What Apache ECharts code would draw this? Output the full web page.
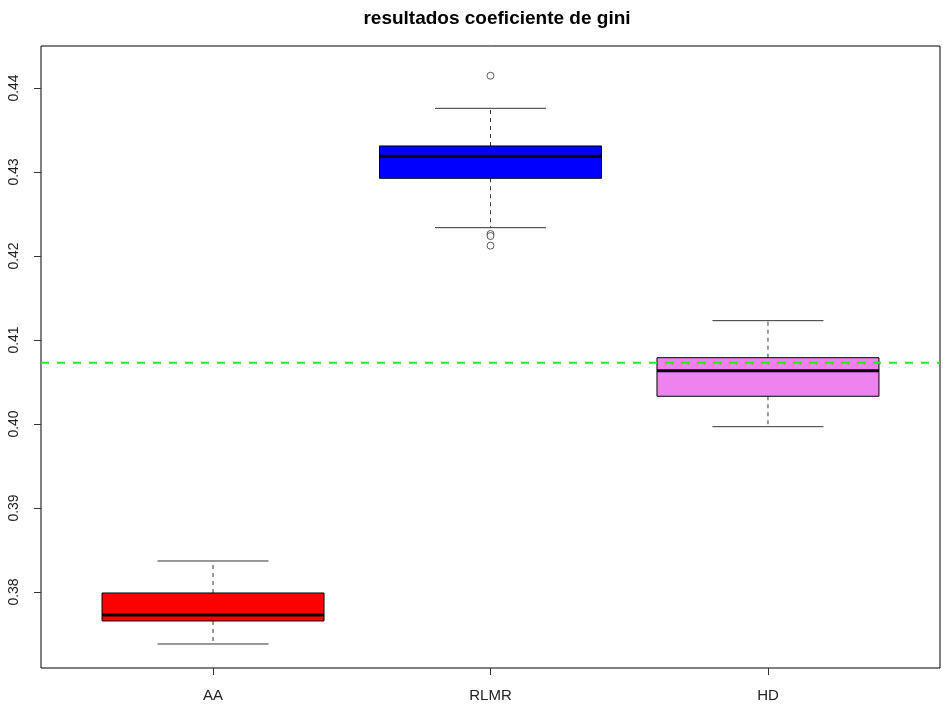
<!DOCTYPE html>
<html>
<head>
<meta charset="utf-8">
<script src="https://cdn.jsdelivr.net/npm/echarts@6/dist/echarts.min.js"></script>
<style>
html, body { margin: 0; padding: 0; background: #fff; }
#chart { width: 943px; height: 709px; }
</style>
</head>
<body>
<div id="chart"></div>
<script>
const categories = ['AA', 'RLMR', 'HD'];
const boxColors = ['#ff0000', '#0000ff', '#ee82ee'];
// lower whisker, Q1, median, Q3, upper whisker
const statsAA = [0.37381, 0.37655, 0.37726, 0.37988, 0.38369];
const statsRLMR = [0.42337, 0.42925, 0.43187, 0.43310, 0.43758];
const statsHD = [0.39968, 0.40330, 0.40635, 0.40789, 0.41230];
const outlierGroup = [2, 2, 2, 2];
const outlierValues = [0.44146, 0.42262, 0.42238, 0.42123];
const referenceLine = 0.40730;
const yTicks = [0.38, 0.39, 0.40, 0.41, 0.42, 0.43, 0.44];
const xMin = 0.38;
const xMax = 3.62;

const boxData = [statsAA, statsRLMR, statsHD].map((s, i) => [i + 1, ...s]);
const outlierData = outlierValues.map((v, i) => [outlierGroup[i], v]);

const renderBox = (params, api) => {
  const x = api.value(0);
  const lo = api.coord([x, api.value(1)]);
  const q1 = api.coord([x, api.value(2)]);
  const med = api.coord([x, api.value(3)]);
  const q3 = api.coord([x, api.value(4)]);
  const hi = api.coord([x, api.value(5)]);
  const left = api.coord([x - 0.4, 0])[0];
  const right = api.coord([x + 0.4, 0])[0];
  const capL = api.coord([x - 0.2, 0])[0];
  const capR = api.coord([x + 0.2, 0])[0];
  const cx = lo[0];
  const whisker = { stroke: '#333', lineWidth: 1, lineDash: [4, 4] };
  const solid = { stroke: '#333', lineWidth: 1 };
  return {
    type: 'group',
    children: [
      { type: 'line', shape: { x1: cx, y1: q3[1], x2: cx, y2: hi[1] }, style: whisker },
      { type: 'line', shape: { x1: cx, y1: q1[1], x2: cx, y2: lo[1] }, style: whisker },
      { type: 'line', shape: { x1: capL, y1: hi[1], x2: capR, y2: hi[1] }, style: solid },
      { type: 'line', shape: { x1: capL, y1: lo[1], x2: capR, y2: lo[1] }, style: solid },
      {
        type: 'rect',
        shape: { x: left, y: q3[1], width: right - left, height: q1[1] - q3[1] },
        style: { fill: boxColors[params.dataIndex], stroke: '#000', lineWidth: 1 }
      },
      { type: 'line', shape: { x1: left, y1: med[1], x2: right, y2: med[1] }, style: { stroke: '#000', lineWidth: 3 } }
    ]
  };
};

const getOption = () => {
  return {
    animation: false,
    textStyle: { fontFamily: 'Liberation Sans, Arial, sans-serif' },
    title: {
      text: 'resultados coeficiente de gini',
      left: 492,
      textAlign: 'center',
      top: 4,
      textStyle: { fontSize: 19, fontWeight: 'bold', color: '#000', fontFamily: 'Liberation Sans' }
    },
    grid: {
      left: 41, right: 3, top: 46, bottom: 41,
      show: true, borderColor: '#000', borderWidth: 1, backgroundColor: 'transparent'
    },
    xAxis: {
      type: 'value',
      min: xMin,
      max: xMax,
      axisLine: { show: false },
      splitLine: { show: false },
      axisTick: { show: true, length: 7, lineStyle: { color: '#333' }, customValues: [1, 2, 3] },
      axisLabel: {
        customValues: [1, 2, 3],
        margin: 20,
        fontSize: 15,
        color: '#222',
        formatter: (v) => categories[Math.round(v) - 1]
      }
    },
    yAxis: {
      type: 'value',
      min: 0.37095,
      max: 0.445,
      axisLine: { show: false },
      splitLine: { show: false },
      axisTick: { show: true, length: 7, lineStyle: { color: '#333' }, customValues: yTicks },
      axisLabel: {
        customValues: yTicks,
        rotate: 90,
        margin: 20,
        fontSize: 14,
        color: '#222',
        formatter: (v) => v.toFixed(2)
      }
    },
    series: [
      {
        type: 'custom',
        renderItem: renderBox,
        encode: { x: 0, y: [1, 2, 3, 4, 5] },
        data: boxData,
        z: 2
      },
      {
        type: 'scatter',
        symbol: 'circle',
        symbolSize: 7,
        itemStyle: { color: '#fff', borderColor: '#333', borderWidth: 1 },
        data: outlierData,
        z: 3
      },
      {
        type: 'line',
        symbol: 'none',
        silent: true,
        lineStyle: { color: '#22ee22', width: 2, type: [8, 8] },
        data: [[xMin, referenceLine], [xMax, referenceLine]],
        z: 4
      }
    ]
  };
};

window.addEventListener('load', () => {
  const chart = echarts.init(document.getElementById('chart'));
  chart.setOption(getOption());
});
</script>
</body>
</html>
